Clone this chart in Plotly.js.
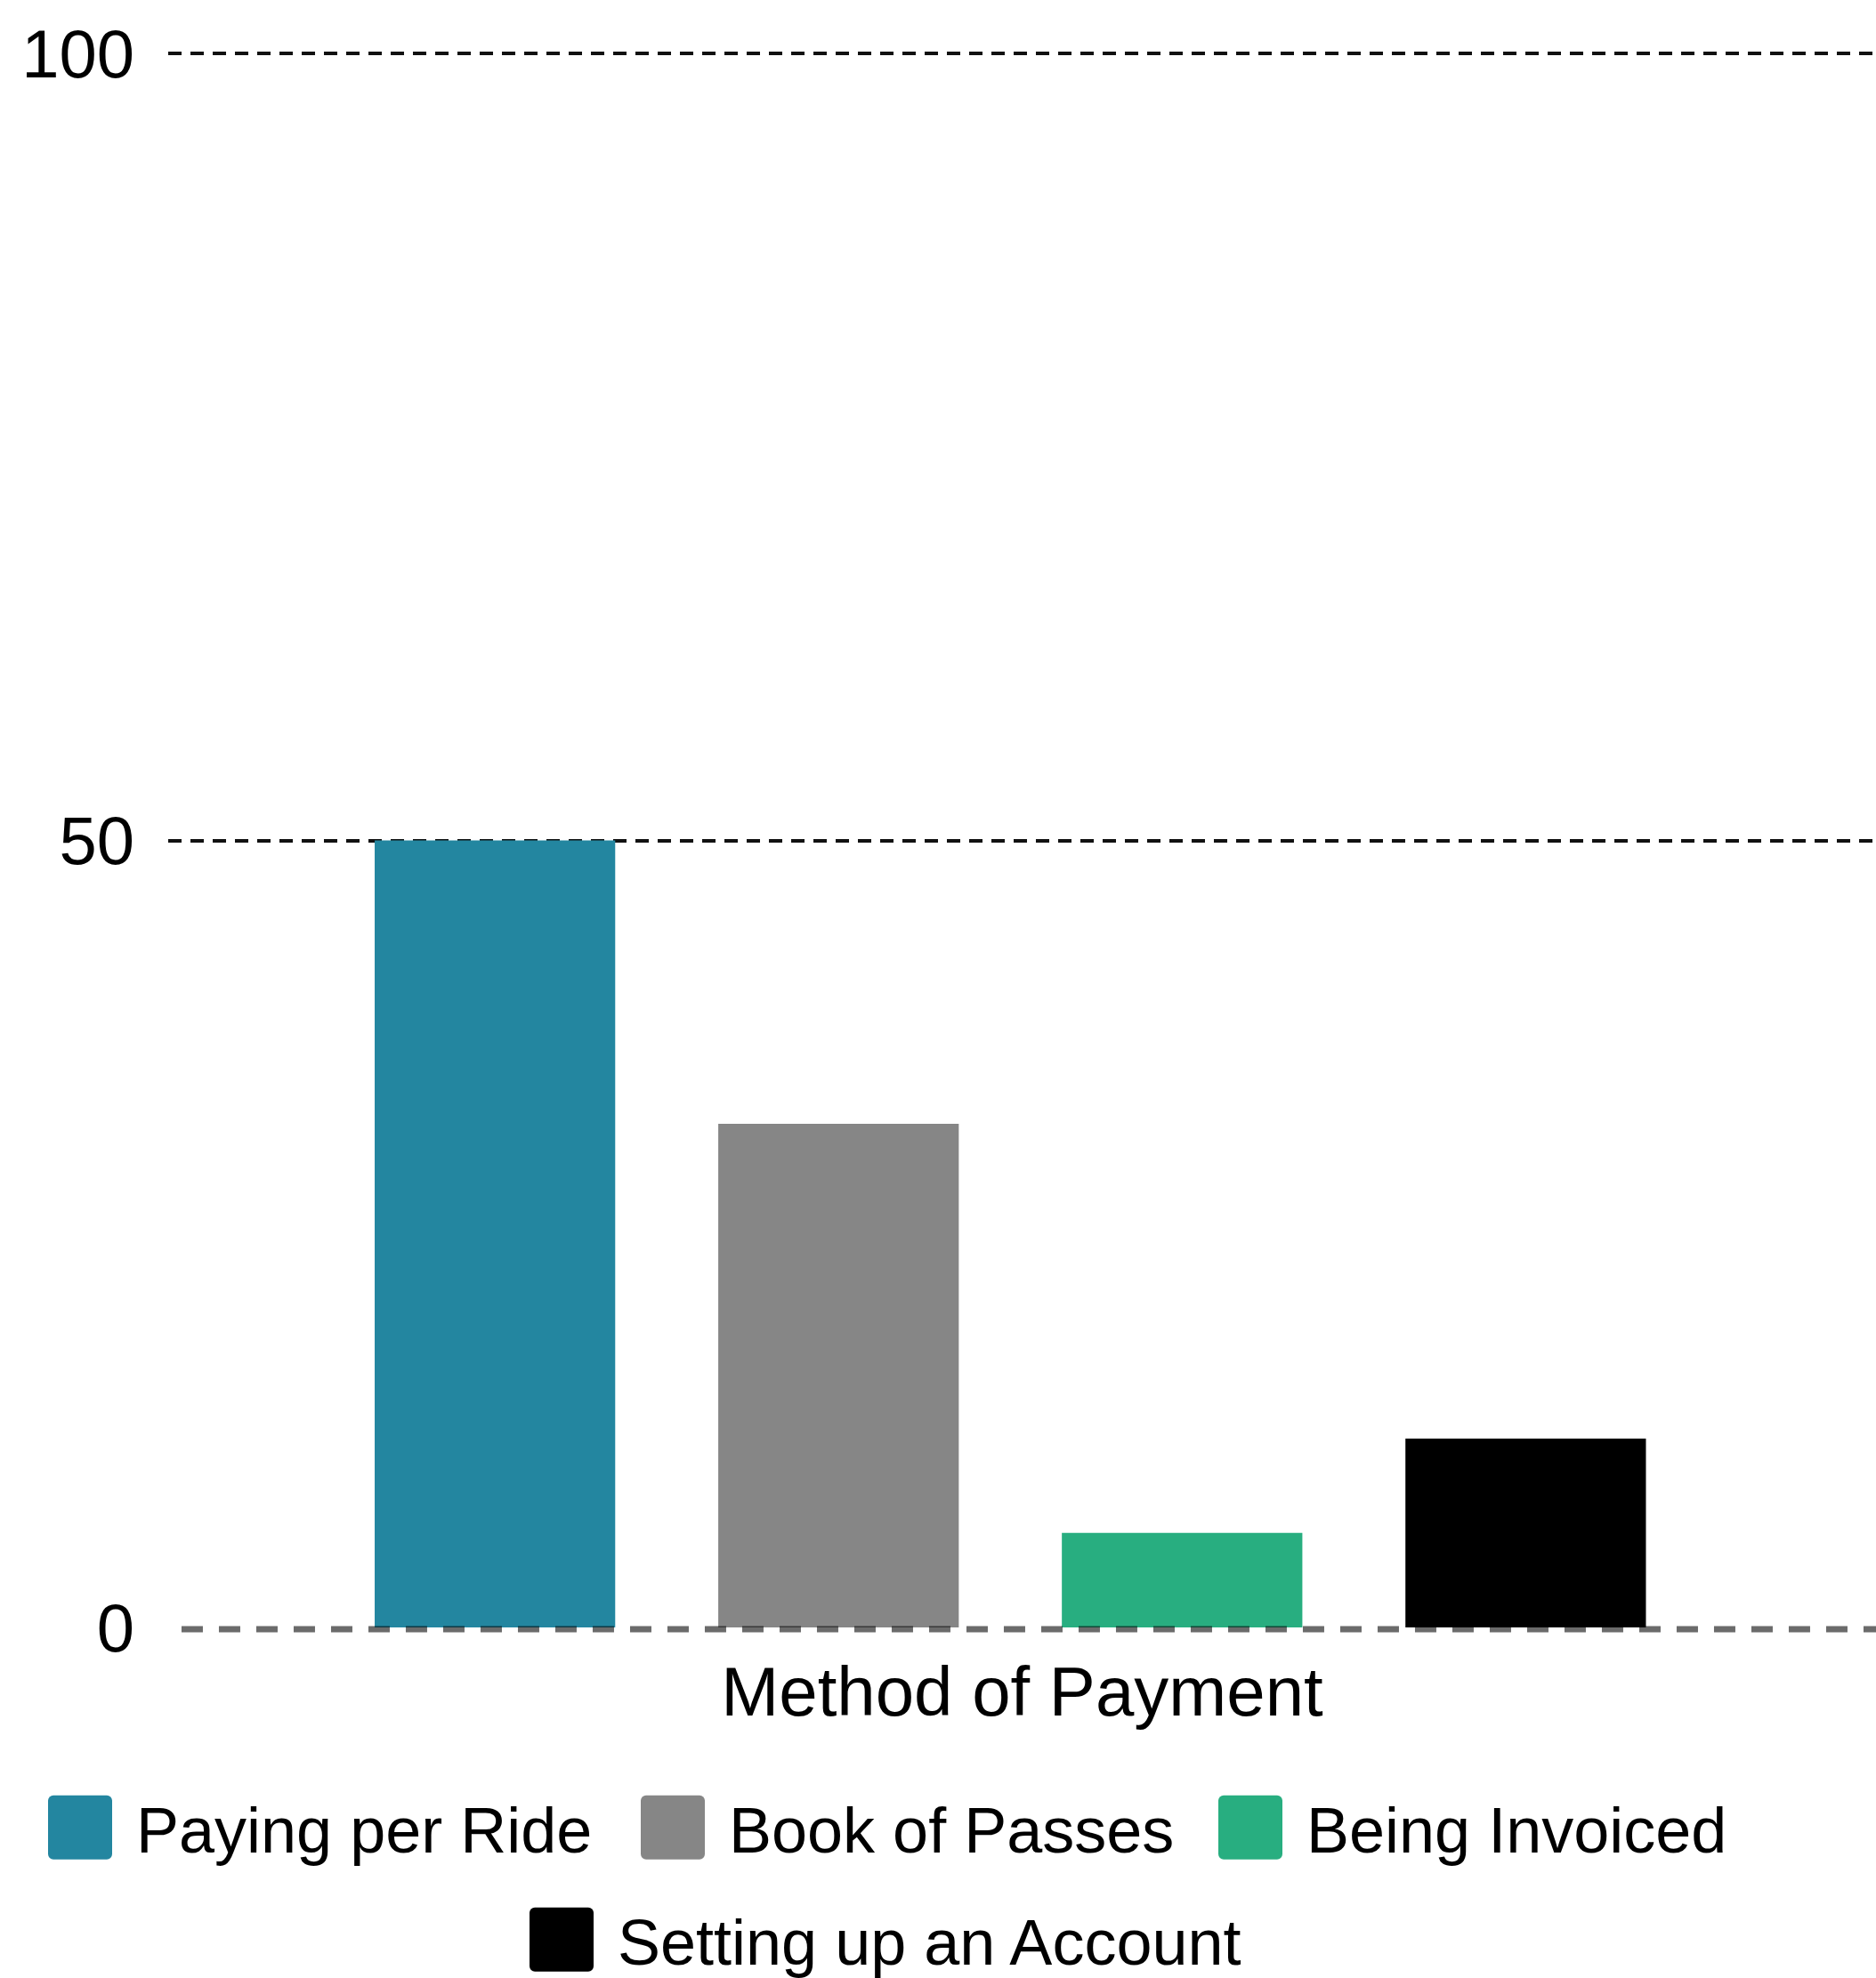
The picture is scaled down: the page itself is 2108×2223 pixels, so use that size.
<!DOCTYPE html>
<html><head><meta charset="utf-8">
<script src="https://cdn.plot.ly/plotly-3.0.1.min.js"></script>
<style>html,body{margin:0;padding:0;background:#fff;} #chart{width:2108px;height:2223px;}</style>
</head><body><div id="chart"></div>
<script>
// ---- data ----
const category = ['Method of Payment'];
const seriesNames = ['Paying per Ride', 'Book of Passes', 'Being Invoiced', 'Setting up an Account'];
const payingPerRide = [50];
const bookOfPasses = [32];
const beingInvoiced = [6];
const settingUpAccount = [12];
const seriesValues = [payingPerRide, bookOfPasses, beingInvoiced, settingUpAccount];
const seriesColors = ['#2386A0', '#868686', '#28AE80', '#000000'];
const yTickVals = [0, 50, 100];
const yTickText = ['0', '50', '100'];
const xTitle = 'Method of Payment';

// ---- styling ----
const FONT = '"Liberation Sans", Arial, Helvetica, sans-serif';
const W = 2108, H = 2223;
const legendKeys = ['legend', 'legend2', 'legend3', 'legend4'];
const legendPos = [[54, 2054], [720, 2054], [1369, 2054], [595, 2180]];

const traces = seriesNames.map((n, i) => ({
  type: 'bar', name: n, x: category, y: seriesValues[i],
  marker: {color: seriesColors[i], line: {width: 0}},
  legend: legendKeys[i], showlegend: true, hoverinfo: 'skip'
}));

const layout = {
  width: W, height: H,
  paper_bgcolor: '#fff', plot_bgcolor: '#fff',
  font: {family: FONT, color: '#000', size: 72},
  showlegend: true,
  margin: {l: 189, r: 0, t: 57, b: 394, pad: 0},
  barmode: 'group', bargap: 0.184, bargroupgap: 0.3,
  xaxis: {
    type: 'category', range: [-0.5, 0.514], showticklabels: false, showgrid: false,
    zeroline: false, showline: false, ticks: '',
    title: {text: xTitle, font: {family: FONT, size: 78, color: '#000'}, standoff: 44}
  },
  yaxis: {
    range: [0, 100.17], tickmode: 'array', tickvals: yTickVals, ticktext: yTickText,
    showgrid: true, gridcolor: '#111', gridwidth: 4, griddash: '15px,10px',
    zeroline: true, zerolinecolor: 'rgba(0,0,0,0)', showline: false, ticks: '',
    ticklabelstandoff: 37, tickfont: {family: FONT, size: 76, color: '#000'}
  },
  // dashed zero line along the bottom of the plot area (y axis starts at 0)
  shapes: [{
    type: 'line', xref: 'paper', yref: 'paper', ysizemode: 'pixel', yanchor: 0,
    x0: 0.0078, x1: 1, y0: -2, y1: -2,
    line: {color: 'rgba(0,0,0,0.58)', width: 7, dash: '24px,18px'}, layer: 'above'
  }]
};
legendKeys.forEach((k, i) => {
  layout[k] = {
    visible: true,
    xref: 'container', yref: 'container',
    x: (legendPos[i][0] - 27) / W, y: 1 - legendPos[i][1] / H,
    xanchor: 'left', yanchor: 'middle', orientation: 'h', itemwidth: 116,
    font: {family: FONT, size: 72, color: '#000'},
    bgcolor: 'rgba(0,0,0,0)', borderwidth: 0
  };
});

function fixLegend() {
  const r = 36, c = 6;
  const d = `M${-r + c},${-r}H${r - c}A${c},${c} 0 0 1 ${r},${-r + c}V${r - c}A${c},${c} 0 0 1 ${r - c},${r}H${-r + c}A${c},${c} 0 0 1 ${-r},${r - c}V${-r + c}A${c},${c} 0 0 1 ${-r + c},${-r}Z`;
  document.querySelectorAll('#chart .legendpoints path').forEach(p => {
    const cur = p.getAttribute('d') || '';
    if (cur.indexOf('M6,6H-6V-6H6Z') === 0 || p.dataset.big) { p.setAttribute('d', d); p.dataset.big = '1'; }
  });
}
Plotly.newPlot('chart', traces, layout, {staticPlot: true, displayModeBar: false}).then(gd => {
  fixLegend();
  gd.on('plotly_afterplot', fixLegend);
});
</script>
</body></html>
